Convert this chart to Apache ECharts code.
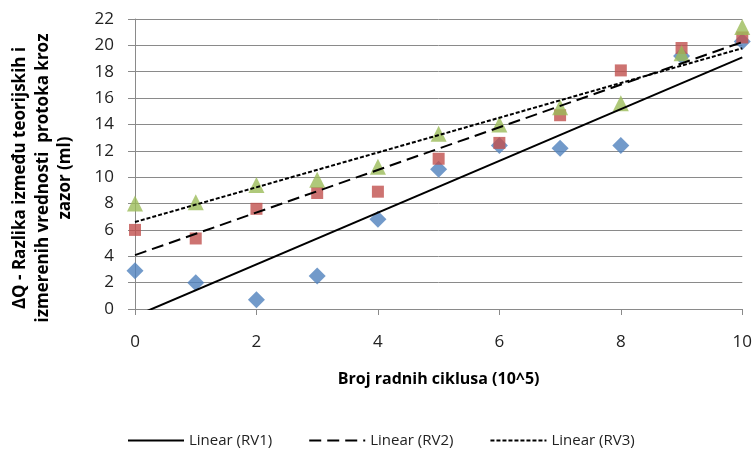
<!DOCTYPE html>
<html>
<head>
<meta charset="utf-8">
<script src="https://cdn.jsdelivr.net/npm/echarts@6/dist/echarts.min.js"></script>
<style>
  html, body { margin: 0; padding: 0; background: #fff; }
  #chart { width: 755px; height: 450px; }
</style>
</head>
<body>
<div id="chart"></div>
<script>
// Working cycles (x 10^5)
const cycles = [0, 1, 2, 3, 4, 5, 6, 7, 8, 9, 10];
// Difference between theoretical and measured leakage flow (ml)
const rv1 = [2.9, 2.0, 0.7, 2.5, 6.8, 10.6, 12.4, 12.2, 12.4, 19.2, 20.3];
const rv2 = [6.0, 5.35, 7.6, 8.8, 8.9, 11.4, 12.6, 14.7, 18.1, 19.8, 20.6];
const rv3 = [8.0, 8.1, 9.4, 9.8, 10.8, 13.3, 14.0, 15.3, 15.6, 19.4, 21.4];

const yTicks = { min: 0, max: 22, interval: 2 };
const xTicks = { min: 0, max: 10, interval: 2 };

// least-squares fit, returned as the two end points over the x range
function linearFit(xs, ys) {
  const n = xs.length;
  const mx = xs.reduce((a, b) => a + b, 0) / n;
  const my = ys.reduce((a, b) => a + b, 0) / n;
  let sxy = 0, sxx = 0;
  for (let i = 0; i < n; i++) {
    sxy += (xs[i] - mx) * (ys[i] - my);
    sxx += (xs[i] - mx) * (xs[i] - mx);
  }
  const k = sxy / sxx, b = my - k * mx;
  const x0 = xs[0], x1 = xs[n - 1];
  return [[x0, k * x0 + b], [x1, k * x1 + b]];
}
const pairs = ys => cycles.map((x, i) => [x, ys[i]]);

const font = '"Open Sans", Lato, sans-serif';
const gridColor = '#8a8a8a';

const chart = echarts.init(document.getElementById('chart'), null, { renderer: 'canvas' });
chart.setOption({
  animation: false,
  backgroundColor: '#ffffff',
  grid: { left: 135, right: 12, top: 19, bottom: 141, containLabel: false },
  xAxis: {
    type: 'value', min: xTicks.min, max: xTicks.max, interval: xTicks.interval,
    name: 'Broj radnih ciklusa (10^5)',
    nameLocation: 'middle', nameGap: 62,
    nameTextStyle: { fontFamily: font, fontWeight: 'bold', fontSize: 16, color: '#000' },
    axisLine: { onZero: false, lineStyle: { color: gridColor, width: 1 } },
    axisTick: { show: true, length: 6, lineStyle: { color: gridColor } },
    axisLabel: { margin: 25, fontFamily: font, fontSize: 17, color: '#222' },
    splitLine: { show: false }
  },
  yAxis: {
    type: 'value', min: yTicks.min, max: yTicks.max, interval: yTicks.interval,
    axisLine: { show: true, lineStyle: { color: gridColor, width: 1 } },
    axisTick: { show: true, length: 7, lineStyle: { color: gridColor } },
    axisLabel: { margin: 21, fontFamily: font, fontSize: 17, color: '#222' },
    splitLine: { show: true, lineStyle: { color: gridColor, width: 1 } }
  },
  graphic: [{
    type: 'text',
    x: 43, y: 178,
    rotation: Math.PI / 2,
    style: {
      text: 'ΔQ - Razlika između teorijskih i\nizmerenih vrednosti  protoka kroz\nzazor (ml)',
      font: 'bold 17px ' + font,
      fill: '#000',
      align: 'center',
      verticalAlign: 'middle',
      lineHeight: 22.5
    }
  }],
  legend: {
    data: ['Linear (RV1)', 'Linear (RV2)', 'Linear (RV3)'],
    top: 428, left: 122,
    itemWidth: 56, itemHeight: 10, itemGap: 36,
    itemStyle: { opacity: 0 },
    textStyle: { fontFamily: font, fontSize: 15, color: '#222' }
  },
  series: [
    { name: 'RV1', type: 'scatter', symbol: 'diamond', symbolSize: 17,
      itemStyle: { color: '#4F81BD' }, data: pairs(rv1), z: 2 },
    { name: 'RV2', type: 'scatter', symbol: 'rect', symbolSize: 12,
      itemStyle: { color: '#C0504D' }, data: pairs(rv2), z: 3 },
    { name: 'RV3', type: 'scatter', symbol: 'triangle', symbolSize: 16,
      itemStyle: { color: '#9BBB59' }, data: pairs(rv3), z: 4 },
    { name: 'Linear (RV1)', type: 'line', symbol: 'none', clip: true, z: 5,
      itemStyle: { color: '#000' },
      lineStyle: { color: '#000', width: 2, type: 'solid' }, data: linearFit(cycles, rv1) },
    { name: 'Linear (RV2)', type: 'line', symbol: 'none', clip: true, z: 5,
      itemStyle: { color: '#000' },
      lineStyle: { color: '#000', width: 2, type: [12, 6] }, data: linearFit(cycles, rv2) },
    { name: 'Linear (RV3)', type: 'line', symbol: 'none', clip: true, z: 5,
      itemStyle: { color: '#000' },
      lineStyle: { color: '#000', width: 2, type: [4, 2] }, data: linearFit(cycles, rv3) }
  ]
});
</script>
</body>
</html>
